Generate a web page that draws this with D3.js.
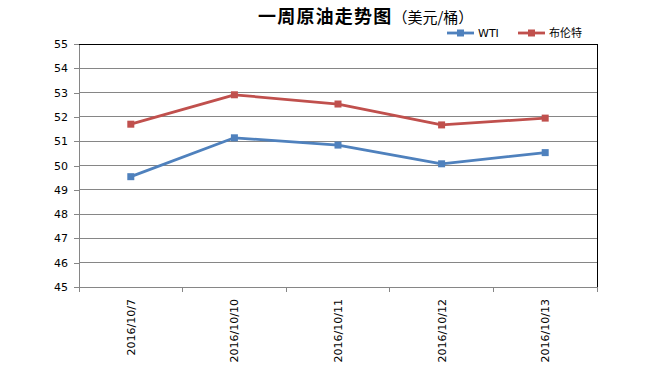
<!DOCTYPE html>
<html><head><meta charset="utf-8">
<script src="https://cdn.jsdelivr.net/npm/d3@7"></script>
<style>body{margin:0;background:#fff;} svg{display:block;}</style>
</head><body>
<svg id="c" width="650" height="370"></svg>
<script>
const categories = ["2016/10/7","2016/10/10","2016/10/11","2016/10/12","2016/10/13"];
const wti = [49.54, 51.14, 50.84, 50.07, 50.53];
const brent = [51.70, 52.91, 52.53, 51.67, 51.95];
const seriesNames = ["WTI","布伦特"];
const yTicks = [45,46,47,48,49,50,51,52,53,54,55];

const svg = d3.select("#c");
const L=79, R=597, T=44, B=287;
const x = d3.scaleBand().domain(categories).range([L,R]);
const y = d3.scaleLinear().domain([45,55]).range([B,T]);
const numFont = "'DejaVu Sans', sans-serif";

// gridlines
svg.append("g").selectAll("line").data(yTicks.slice(1)).join("line")
  .attr("x1",L).attr("x2",R).attr("y1",d=>y(d)).attr("y2",d=>y(d))
  .attr("stroke", d=>d===55?"#000":"#868686").attr("stroke-width",1).attr("shape-rendering","crispEdges");
// right border
svg.append("line").attr("x1",R).attr("x2",R).attr("y1",T).attr("y2",B).attr("stroke","#000").attr("shape-rendering","crispEdges");

// y axis
const ya = svg.append("g").attr("transform",`translate(${L},0)`)
  .call(d3.axisLeft(y).tickValues(yTicks).tickSize(5).tickSizeOuter(0).tickPadding(6));
ya.select(".domain").attr("stroke","#868686").attr("shape-rendering","crispEdges");
ya.selectAll(".tick line").attr("stroke","#868686").attr("shape-rendering","crispEdges");
ya.selectAll("text").attr("font-family",numFont).attr("font-size",11).attr("fill","#000");

// x axis
const xa = svg.append("g").attr("transform",`translate(0,${B})`)
  .call(d3.axisBottom(x).tickSize(0).tickSizeOuter(0));
xa.select(".domain").attr("stroke","#868686").attr("shape-rendering","crispEdges");
xa.selectAll(".tick text").attr("font-family",numFont).attr("font-size",11).attr("fill","#000")
  .attr("text-anchor","end").attr("transform","translate(4,12) rotate(-90)").attr("dy","0").attr("y",0).attr("x",0);
// band boundary ticks
const bounds = categories.map(c=>x(c)).concat([R]);
svg.append("g").selectAll("line").data(bounds).join("line")
  .attr("x1",d=>d).attr("x2",d=>d).attr("y1",B).attr("y2",B+5)
  .attr("stroke","#868686").attr("shape-rendering","crispEdges");

const colors = ["#4F81BD","#C0504D"];
const line = d3.line().x((d,i)=>x(categories[i])+x.bandwidth()/2).y(d=>y(d));
[wti,brent].forEach((s,k)=>{
  svg.append("path").datum(s).attr("d",line).attr("fill","none").attr("stroke",colors[k]).attr("stroke-width",2.8).attr("stroke-linejoin","round");
  svg.append("g").selectAll("rect").data(s).join("rect")
    .attr("x",(d,i)=>x(categories[i])+x.bandwidth()/2-3.5).attr("y",d=>y(d)-3.5)
    .attr("width",7).attr("height",7).attr("fill",colors[k]);
});

// title
const title = svg.append("text").attr("x",258).attr("y",23).attr("text-anchor","start").attr("fill","#000");
title.append("tspan").text("一周原油走势图").attr("font-family","'Noto Sans CJK SC', sans-serif").attr("font-weight","bold").attr("font-size",18).attr("letter-spacing",1.2);
title.append("tspan").text("（美元/桶）").attr("font-family","'Noto Sans CJK SC', sans-serif").attr("font-size",15);

// legend
const legX = [447, 518];
seriesNames.forEach((n,k)=>{
  const g = svg.append("g").attr("transform",`translate(${legX[k]},33)`);
  g.append("line").attr("x1",0).attr("x2",27).attr("stroke",colors[k]).attr("stroke-width",2.8);
  g.append("rect").attr("x",10).attr("y",-3.5).attr("width",7).attr("height",7).attr("fill",colors[k]);
  g.append("text").attr("x",31).attr("y",4).text(n).attr("font-size",11)
    .attr("font-family", k===0?numFont:"'Noto Sans CJK SC', sans-serif").attr("fill","#000");
});
</script>
</body></html>
